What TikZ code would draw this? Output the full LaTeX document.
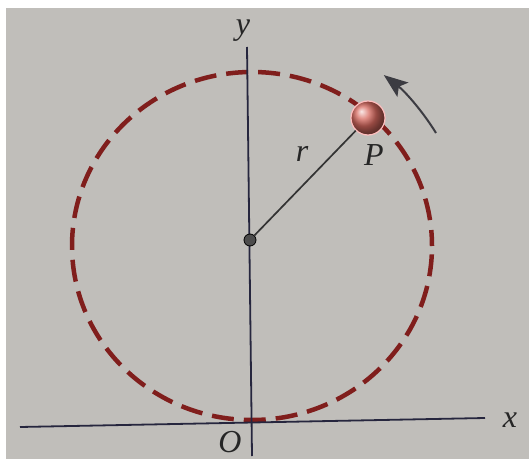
\documentclass[tikz,border=0pt]{standalone}
\usepackage{fontspec}
\setmainfont{Liberation Serif}
\usetikzlibrary{arrows.meta}
\definecolor{bg}{RGB}{192,190,186}
\definecolor{axiscol}{RGB}{38,38,62}
\definecolor{pathcol}{RGB}{128,30,28}
\definecolor{ballcol}{RGB}{215,105,95}
\definecolor{arrowcol}{RGB}{60,60,66}
\tikzset{
  axis/.style={draw=axiscol, line width=1.8pt},
  orbit/.style={draw=pathcol, line width=4.5pt, dash pattern=on 22pt off 10pt, dash phase=6pt},
  lab/.style={font=\fontsize{32}{34}\selectfont\itshape, text=black!85, inner sep=0pt},
  radline/.style={draw=black!80, line width=1.7pt},
  motion/.style={draw=arrowcol, line width=2pt, -{Stealth[length=24pt, width=18pt, inset=5pt]}},
}
\begin{document}
\begin{tikzpicture}[x=1pt,y=-1pt]
\fill[white] (0,0) rectangle (529,462);
\useasboundingbox (0,0) rectangle (529,462);
\fill[bg] (6,8) rectangle (529,459);
% orbit
\draw[orbit] (252,246) ellipse [x radius=180pt, y radius=174pt];
% axes
\coordinate (ytop) at (247,47);
\coordinate (ybot) at (252,456);
\coordinate (xl) at (20,427);
\coordinate (xr) at (485,418);
\draw[axis] (ytop) -- (ybot);
\draw[axis] (xl) -- (xr);
% labels
\node[lab] (ylab) at (243,31) {y};
\node[lab] (xlab) at (510,420) {x};
\node[lab] (olab) at (230,442) {O};
\node[lab] (rlab) at (302,154) {r};
\node[lab] (plab) at (374,155) {P};
% center and particle
\node[circle, fill=black!70, draw=black, line width=0.8pt, minimum size=12pt, inner sep=0pt] (C) at (250,240) {};
\node[circle, minimum size=34pt, inner sep=0pt, shade, ball color=ballcol, draw=red!25!white, line width=1.2pt] (P) at (368,118) {};
\draw[radline] (C) -- (P);
% motion arrow
\coordinate (a1) at (436,133);
\draw[motion] (a1) arc[start angle=31.6, end angle=52.5, radius=215pt];
\end{tikzpicture}
\end{document}
